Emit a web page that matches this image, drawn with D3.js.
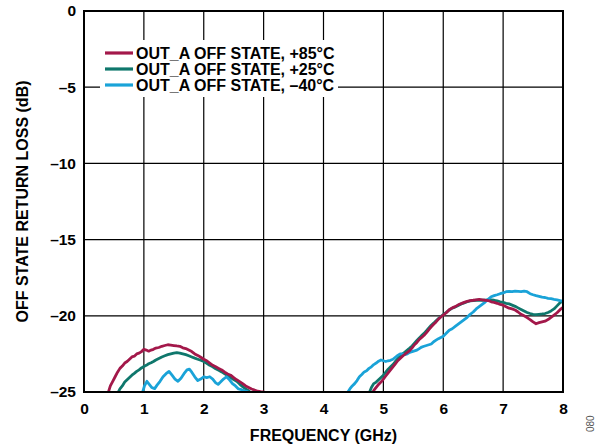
<!DOCTYPE html>
<html><head><meta charset="utf-8">
<script src="https://cdn.jsdelivr.net/npm/d3@7"></script>
<style>body{margin:0;background:#fff}svg{display:block}text{font-family:"Liberation Sans",Arial,sans-serif;font-weight:bold;fill:#000}</style>
</head><body><svg id="c" width="605" height="447"></svg>
<script>
const xTicks = [0,1,2,3,4,5,6,7,8];
const yTicks = [0,-5,-10,-15,-20,-25];
const yTickLabels = ["0","–5","–10","–15","–20","–25"];
const seriesNames = ["OUT_A OFF STATE, +85°C","OUT_A OFF STATE, +25°C","OUT_A OFF STATE, –40°C"];
const seriesColors = ["#a3184a","#0f776c","#1aa3d8"];
const hot85 = [[0,-25.0],[0.08,-26.5],[0.35,-26.5],[0.40,-25.1],[0.44,-24.6],[0.48,-24.3],[0.52,-24.0],[0.56,-23.7],[0.60,-23.45],[0.64,-23.3],[0.68,-23.1],[0.72,-23.0],[0.76,-22.85],[0.80,-22.7],[0.84,-22.65],[0.88,-22.5],[0.92,-22.45],[0.96,-22.35],[1.00,-22.2],[1.04,-22.25],[1.08,-22.32],[1.12,-22.25],[1.16,-22.2],[1.20,-22.12],[1.25,-22.08],[1.30,-22.0],[1.35,-21.95],[1.40,-21.9],[1.45,-21.92],[1.50,-21.95],[1.55,-21.98],[1.60,-22.0],[1.65,-22.1],[1.70,-22.15],[1.75,-22.25],[1.80,-22.35],[1.85,-22.5],[1.90,-22.6],[1.95,-22.72],[2.00,-22.85],[2.05,-22.95],[2.10,-23.1],[2.15,-23.25],[2.20,-23.35],[2.25,-23.45],[2.30,-23.55],[2.35,-23.7],[2.40,-23.82],[2.45,-23.9],[2.50,-24.05],[2.55,-24.2],[2.60,-24.32],[2.65,-24.45],[2.70,-24.6],[2.75,-24.7],[2.80,-24.8],[2.85,-24.88],[2.90,-24.95],[2.95,-24.98],[3.00,-25.0],[3.05,-26.5],[4.75,-26.5],[4.80,-25.2],[4.84,-24.9],[4.88,-24.7],[4.92,-24.5],[4.96,-24.35],[5.00,-24.15],[5.04,-23.95],[5.08,-23.75],[5.12,-23.55],[5.16,-23.35],[5.20,-23.15],[5.24,-22.95],[5.28,-22.8],[5.32,-22.65],[5.36,-22.52],[5.40,-22.4],[5.44,-22.28],[5.48,-22.1],[5.52,-21.9],[5.56,-21.75],[5.60,-21.55],[5.64,-21.42],[5.68,-21.28],[5.72,-21.1],[5.76,-20.9],[5.80,-20.72],[5.84,-20.55],[5.88,-20.4],[5.92,-20.22],[5.96,-20.08],[6.00,-19.95],[6.05,-19.8],[6.10,-19.6],[6.15,-19.48],[6.20,-19.4],[6.25,-19.28],[6.30,-19.2],[6.35,-19.12],[6.40,-19.05],[6.45,-19.0],[6.50,-18.98],[6.55,-18.95],[6.60,-18.92],[6.65,-18.95],[6.70,-18.98],[6.75,-19.0],[6.80,-19.08],[6.85,-19.12],[6.90,-19.18],[6.95,-19.25],[7.00,-19.3],[7.05,-19.4],[7.10,-19.5],[7.15,-19.55],[7.20,-19.62],[7.25,-19.75],[7.30,-19.9],[7.35,-20.0],[7.40,-20.12],[7.45,-20.25],[7.50,-20.4],[7.55,-20.52],[7.60,-20.45],[7.65,-20.4],[7.70,-20.35],[7.75,-20.25],[7.80,-20.1],[7.85,-19.95],[7.90,-19.8],[7.95,-19.6],[8.00,-19.45]];
const room25 = [[0,-26.5],[0.50,-26.5],[0.56,-25.1],[0.60,-24.8],[0.64,-24.6],[0.68,-24.35],[0.72,-24.2],[0.76,-24.05],[0.80,-23.9],[0.84,-23.78],[0.88,-23.65],[0.92,-23.55],[0.96,-23.42],[1.00,-23.33],[1.04,-23.25],[1.08,-23.15],[1.12,-23.08],[1.16,-23.0],[1.20,-22.9],[1.25,-22.8],[1.30,-22.7],[1.35,-22.62],[1.40,-22.55],[1.45,-22.5],[1.50,-22.45],[1.55,-22.42],[1.60,-22.45],[1.65,-22.5],[1.70,-22.55],[1.75,-22.62],[1.80,-22.7],[1.85,-22.78],[1.90,-22.85],[1.95,-22.92],[2.00,-23.0],[2.05,-23.12],[2.10,-23.25],[2.15,-23.35],[2.20,-23.48],[2.25,-23.58],[2.30,-23.68],[2.35,-23.8],[2.40,-23.92],[2.45,-24.05],[2.50,-24.18],[2.55,-24.3],[2.60,-24.48],[2.65,-24.65],[2.70,-24.8],[2.75,-24.92],[2.78,-25.05],[2.82,-26.5],[4.70,-26.5],[4.76,-25.1],[4.80,-24.7],[4.84,-24.45],[4.88,-24.35],[4.92,-24.2],[4.96,-24.05],[5.00,-23.9],[5.04,-23.7],[5.08,-23.5],[5.12,-23.35],[5.16,-23.2],[5.20,-23.0],[5.24,-22.82],[5.28,-22.65],[5.32,-22.5],[5.36,-22.38],[5.40,-22.25],[5.44,-22.12],[5.48,-21.98],[5.52,-21.8],[5.56,-21.62],[5.60,-21.45],[5.64,-21.3],[5.68,-21.15],[5.72,-20.98],[5.76,-20.8],[5.80,-20.62],[5.84,-20.48],[5.88,-20.32],[5.92,-20.18],[5.96,-20.05],[6.00,-19.92],[6.05,-19.78],[6.10,-19.62],[6.15,-19.5],[6.20,-19.42],[6.25,-19.32],[6.30,-19.22],[6.35,-19.15],[6.40,-19.08],[6.45,-19.02],[6.50,-19.0],[6.55,-18.98],[6.60,-18.97],[6.65,-18.98],[6.70,-18.97],[6.75,-18.95],[6.80,-18.95],[6.85,-18.98],[6.90,-19.02],[6.95,-19.08],[7.00,-19.12],[7.05,-19.18],[7.10,-19.22],[7.15,-19.3],[7.20,-19.38],[7.25,-19.48],[7.30,-19.58],[7.35,-19.68],[7.40,-19.78],[7.45,-19.85],[7.50,-19.9],[7.55,-19.92],[7.60,-19.9],[7.65,-19.88],[7.70,-19.85],[7.75,-19.78],[7.80,-19.68],[7.85,-19.55],[7.90,-19.35],[7.95,-19.15],[8.00,-19.0]];
const cold40 = [[0,-26.5],[0.95,-26.5],[0.98,-25.0],[1.01,-24.6],[1.05,-24.3],[1.09,-24.5],[1.13,-24.7],[1.18,-24.78],[1.22,-24.55],[1.27,-24.3],[1.32,-24.0],[1.37,-23.8],[1.42,-23.65],[1.47,-23.9],[1.52,-24.15],[1.57,-24.3],[1.62,-24.1],[1.67,-23.8],[1.72,-23.55],[1.76,-23.5],[1.80,-23.7],[1.85,-24.0],[1.90,-24.25],[1.95,-24.15],[2.00,-24.0],[2.05,-24.05],[2.10,-24.0],[2.15,-24.15],[2.20,-24.4],[2.24,-24.5],[2.28,-24.35],[2.33,-24.15],[2.38,-24.0],[2.43,-24.2],[2.48,-24.45],[2.53,-24.6],[2.58,-24.8],[2.63,-24.85],[2.68,-24.92],[2.73,-24.98],[2.77,-25.05],[2.80,-26.5],[4.35,-26.5],[4.40,-25.05],[4.44,-24.8],[4.48,-24.6],[4.52,-24.45],[4.56,-24.25],[4.60,-24.0],[4.64,-23.85],[4.68,-23.68],[4.72,-23.6],[4.76,-23.45],[4.80,-23.35],[4.84,-23.2],[4.88,-23.1],[4.92,-22.98],[4.96,-22.9],[5.00,-22.95],[5.04,-23.0],[5.08,-22.95],[5.12,-22.92],[5.16,-22.85],[5.20,-22.72],[5.24,-22.6],[5.28,-22.5],[5.32,-22.5],[5.36,-22.55],[5.40,-22.5],[5.44,-22.4],[5.48,-22.35],[5.52,-22.3],[5.56,-22.25],[5.60,-22.15],[5.64,-22.05],[5.68,-22.0],[5.72,-21.95],[5.76,-21.9],[5.80,-21.85],[5.84,-21.7],[5.88,-21.6],[5.92,-21.5],[5.96,-21.42],[6.00,-21.35],[6.05,-21.15],[6.10,-20.95],[6.15,-20.85],[6.20,-20.7],[6.25,-20.55],[6.30,-20.4],[6.35,-20.25],[6.40,-20.1],[6.45,-19.9],[6.50,-19.75],[6.55,-19.55],[6.60,-19.4],[6.65,-19.25],[6.70,-19.1],[6.75,-18.92],[6.80,-18.75],[6.85,-18.68],[6.90,-18.62],[6.95,-18.55],[7.00,-18.5],[7.05,-18.42],[7.10,-18.4],[7.15,-18.42],[7.20,-18.38],[7.25,-18.4],[7.30,-18.42],[7.35,-18.38],[7.40,-18.42],[7.45,-18.55],[7.50,-18.62],[7.55,-18.68],[7.60,-18.72],[7.65,-18.78],[7.70,-18.8],[7.75,-18.85],[7.80,-18.88],[7.85,-18.92],[7.90,-18.95],[7.95,-19.0],[8.00,-19.05]];
const seriesData = [hot85, room25, cold40];

const svg = d3.select("#c");
const L = 84, R = 563, T = 11, B = 392;
const x = d3.scaleLinear().domain([0,8]).range([L,R]);
const y = d3.scaleLinear().domain([-25,0]).range([B,T]);

svg.append("defs").append("clipPath").attr("id","clip")
  .append("rect").attr("x",L).attr("y",T).attr("width",R-L).attr("height",B-T);

// grid
const grid = svg.append("g");
grid.selectAll("line.v").data(xTicks.slice(1,-1)).enter().append("line")
  .attr("x1",d=>x(d)).attr("x2",d=>x(d)).attr("y1",T).attr("y2",B)
  .attr("stroke","#000").attr("stroke-width",1.2);
grid.selectAll("line.h").data(yTicks.slice(1,-1)).enter().append("line")
  .attr("y1",d=>y(d)).attr("y2",d=>y(d)).attr("x1",L).attr("x2",R)
  .attr("stroke","#000").attr("stroke-width",1.2);

// legend background
svg.append("rect").attr("x",100).attr("y",40).attr("width",238).attr("height",57).attr("fill","#fff");

// axes via d3
const xAxis = d3.axisBottom(x).tickValues(xTicks).tickSize(0).tickPadding(11).tickFormat(d=>String(d));
const gx = svg.append("g").attr("transform",`translate(0,${B})`).call(xAxis);
gx.select(".domain").remove();
gx.selectAll("text").attr("font-size",15.5).attr("font-family","'Liberation Sans',Arial,sans-serif").attr("font-weight","bold").attr("fill","#000");
const yAxis = d3.axisLeft(y).tickValues(yTicks).tickSize(0).tickPadding(8).tickFormat((d,i)=>yTickLabels[i]);
const gy = svg.append("g").attr("transform",`translate(${L},0)`).call(yAxis);
gy.select(".domain").remove();
gy.selectAll("text").attr("font-size",15.5).attr("font-family","'Liberation Sans',Arial,sans-serif").attr("font-weight","bold").attr("fill","#000");

// lines
const line = d3.line().x(d=>x(d[0])).y(d=>y(d[1]));
const lg = svg.append("g").attr("clip-path","url(#clip)");
[1,2,0].forEach(i=>{
  lg.append("path").datum(seriesData[i]).attr("d",line).attr("fill","none")
    .attr("stroke",seriesColors[i]).attr("stroke-width",2.8).attr("stroke-linejoin","round");
});

// border
svg.append("rect").attr("x",L).attr("y",T).attr("width",R-L).attr("height",B-T)
  .attr("fill","none").attr("stroke","#000").attr("stroke-width",2);

// legend
seriesNames.forEach((n,i)=>{
  const yy = 53 + i*16;
  svg.append("line").attr("x1",105).attr("x2",133).attr("y1",yy).attr("y2",yy)
    .attr("stroke",seriesColors[i]).attr("stroke-width",3.2);
  svg.append("text").attr("x",136).attr("y",yy+6).attr("font-size",16).text(n);
});

// titles
svg.append("text").attr("x",(L+R)/2).attr("y",441).attr("text-anchor","middle").attr("font-size",16).text("FREQUENCY (GHz)");
svg.append("text").attr("transform",`translate(28,${(T+B)/2}) rotate(-90)`).attr("text-anchor","middle").attr("font-size",16).text("OFF STATE RETURN LOSS (dB)");
svg.append("text").attr("transform","translate(594,432) rotate(-90)").attr("font-size",10).style("font-weight","normal").style("fill","#555").text("080");
</script></body></html>
